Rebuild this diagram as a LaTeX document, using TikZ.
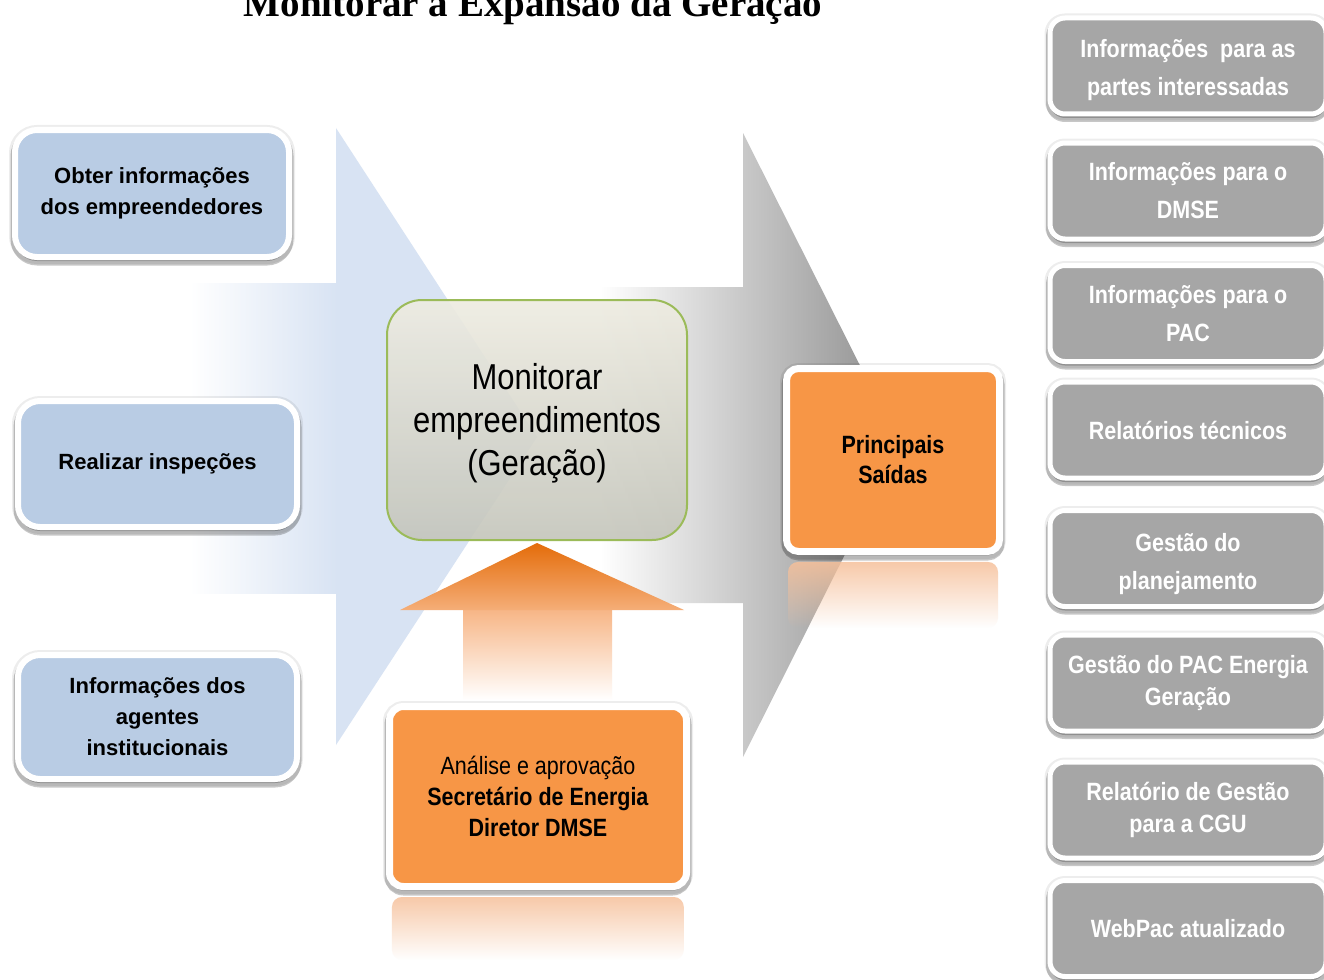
\documentclass[tikz,border=0pt]{standalone}
\usepackage{fontspec}
\setmainfont{Liberation Sans}
\newfontfamily\narrowfont[FakeStretch=0.86]{Liberation Sans}
\newfontfamily\titlefont{Liberation Serif}
\usetikzlibrary{shadows,fadings}
\newcommand\dropby[2]{\raisebox{-#1}[\height][\depth]{\begin{tabular}{@{}c@{}}#2\end{tabular}}}
\definecolor{blueA}{HTML}{D8E3F3}
\definecolor{boxblue}{HTML}{B9CCE4}
\definecolor{orangeM}{HTML}{F79646}
\definecolor{orangeD}{HTML}{E46C0A}
\definecolor{orangeL}{HTML}{F5AE78}
\definecolor{orangeS}{HTML}{F7B585}
\definecolor{orangeR}{HTML}{F6C09A}
\definecolor{greybox}{HTML}{A6A6A6}
\definecolor{greenB}{HTML}{9BBB59}
\definecolor{centerTop}{HTML}{EEECE1}
\definecolor{centerBot}{HTML}{C4C5BB}
\tikzset{
  boxshadow/.style={
    drop shadow={shadow xshift=0pt, shadow yshift=-1pt, draw=black, fill=black, line width=#1+6pt, opacity=0.07},
    drop shadow={shadow xshift=0pt, shadow yshift=-4pt, draw=black, fill=black, line width=#1+3pt, opacity=0.22}},
  inbox/.style={rectangle, rounded corners=22pt, fill=boxblue, draw=white, line width=6pt,
    align=center, font=\bfseries\fontsize{22}{31}\selectfont, boxshadow=6pt},
  outbox/.style={rectangle, rounded corners=15pt, fill=greybox, draw=white, line width=5pt,
    minimum width=276pt, minimum height=96pt, align=center, text=white,
    font=\narrowfont\bfseries\fontsize{25}{38}\selectfont, boxshadow=5pt},
  orbox/.style={rectangle, rounded corners=12pt, fill=orangeM, draw=white, line width=7pt,
    align=center, font=\narrowfont\fontsize{25}{31}\selectfont, boxshadow=7pt},
  centerbox/.style={rectangle, rounded corners=35pt, top color=centerTop, bottom color=centerBot,
    draw=greenB, line width=2pt, fill opacity=0.9, draw opacity=1, text opacity=1,
    minimum width=300pt, minimum height=240pt, align=center,
    font=\narrowfont\fontsize{36}{43}\selectfont},
  reflect/.style={fill=orangeR, path fading=south, fill opacity=0.85, rounded corners=10pt},
}
\begin{document}
\begin{tikzpicture}[x=1pt, y=-1pt]
\clip (0,0) rectangle (1324,979);
\fill[white] (0,0) rectangle (1324,979);
% title
\node[anchor=base, inner sep=0pt, font=\titlefont\bfseries\fontsize{39}{41}\selectfont] (title) at (533,17) {Monitorar a Expansão da Geração};
% blue input arrow
\shade[left color=white, right color=blueA] (190,283) rectangle (337,593);
\fill[blueA] (336,128) -- (537,437) -- (336,745) -- cycle;
% grey output arrow
\shade[left color=white, right color=black!45] (600,287) -- (743,287) -- (743,133) -- (900,445) -- (743,757) -- (743,603) -- (600,603) -- cycle;
% orange up arrow
\shade[top color=orangeS, bottom color=white] (463,609) rectangle (612,700);
\shade[top color=orangeD, bottom color=orangeL] (537,543) -- (684,610) -- (400,610) -- cycle;
% reflections
\fill[reflect] (788,562) rectangle (998,628);
\fill[reflect] (392,897) rectangle (684,960);
% input boxes
\node[inbox, minimum width=274pt, minimum height=127pt] (in1) at (152,193.5) {Obter informações\\dos empreendedores};
\node[inbox, minimum width=279pt, minimum height=126pt] (in2) at (157.5,464) {Realizar inspeções};
\node[inbox, minimum width=279pt, minimum height=124pt] (in3) at (157.5,717) {Informações dos\\agentes\\institucionais};
% central process
\node[centerbox] (proc) at (537,420) {\dropby{4pt}{Monitorar\\empreendimentos\\(Geração)}};
% outputs main
\node[orbox, font=\narrowfont\bfseries\fontsize{25}{30}\selectfont, minimum width=213pt, minimum height=183pt] (out) at (893,460) {Principais\\Saídas};
% approval
\node[orbox, rounded corners=14pt, minimum width=297pt, minimum height=180pt] (appr) at (538,796.5) {Análise e aprovação\\\textbf{Secretário de Energia}\\\textbf{Diretor DMSE}};
% output list
\node[outbox] (o1) at (1188,66) {\dropby{3pt}{Informações\ \ para as\\partes interessadas}};
\node[outbox] (o2) at (1188,191) {Informações para o\\DMSE};
\node[outbox] (o3) at (1188,313.5) {Informações para o\\PAC};
\node[outbox] (o4) at (1188,430) {Relatórios técnicos};
\node[outbox] (o5) at (1188,558.5) {\dropby{4pt}{Gestão do\\planejamento}};
\node[outbox, font=\narrowfont\bfseries\fontsize{25}{32}\selectfont] (o6) at (1188,683) {Gestão do PAC Energia\\Geração};
\node[outbox, font=\narrowfont\bfseries\fontsize{25}{32}\selectfont] (o7) at (1188,810) {Relatório de Gestão\\para a CGU};
\node[outbox] (o8) at (1188,928.5) {WebPac atualizado};
\end{tikzpicture}
\end{document}
